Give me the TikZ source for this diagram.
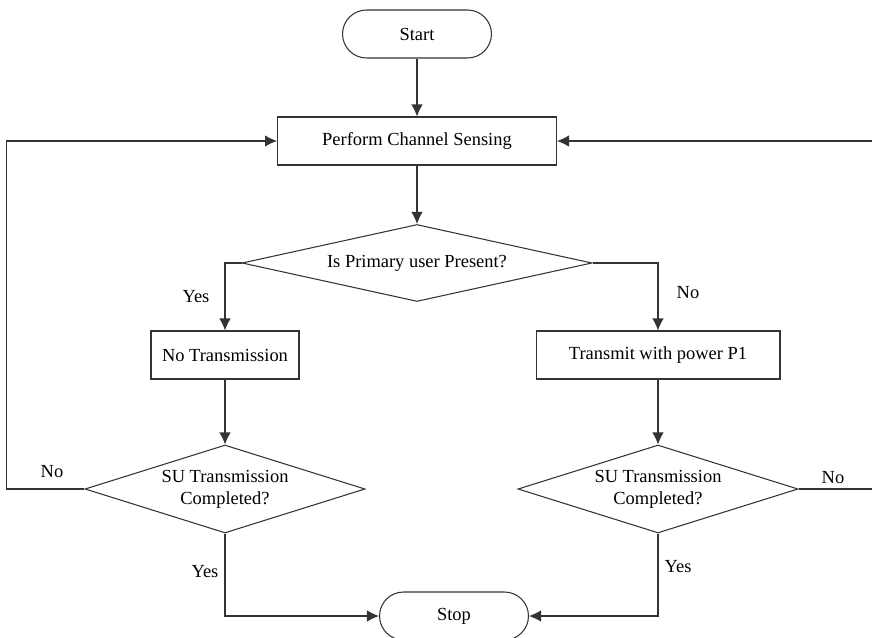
\documentclass[tikz,border=0pt]{standalone}
\usepackage{fontspec}
\setmainfont{Liberation Serif}
\usetikzlibrary{shapes.geometric,arrows.meta}
\tikzset{
  term/.style={draw=black!80, line width=0.6pt, rounded corners=0.48cm,
    minimum width=2.98cm, minimum height=0.96cm, inner sep=0pt},
  proc/.style={draw=black!80, line width=0.6pt, minimum height=0.96cm, inner sep=0pt},
  dec/.style={draw=black!80, line width=0.6pt, diamond, aspect=4, inner sep=0pt, align=center},
  arr/.style={draw=black!80, line width=0.6pt, -{Latex[length=2.4mm,width=2.3mm]}},
  ln/.style={draw=black!80, line width=0.6pt},
}
\begin{document}
\begin{tikzpicture}[x=0.02cm, y=-0.02cm, font=\fontsize{10.5}{12.6}\selectfont]
    \useasboundingbox (0,0) rectangle (872,638);

    % start and sensing
    \node[term] (start) at (417,34) {Start};
    \node[proc, minimum width=5.58cm] (sense) at (417,141) {Perform Channel Sensing};
    \node[dec, minimum width=7cm, minimum height=1.54cm] (pu) at (417,263) {Is Primary user Present?};

    % branches
    \node[proc, minimum width=2.96cm] (notx) at (225,355) {No Transmission};
    \node[proc, minimum width=4.88cm] (tx) at (658,355) {Transmit with power P1};
    \node[dec, minimum width=5.6cm, minimum height=1.76cm] (doneL) at (225,489) {SU Transmission\\Completed?};
    \node[dec, minimum width=5.58cm, minimum height=1.76cm] (doneR) at (658,489) {SU Transmission\\Completed?};

    % stop
    \node[term] (stop) at (454,616) {Stop};

    % main flow
    \draw[arr] (start) -- (sense);
    \draw[arr] (sense) -- (pu);
    \draw[arr] (pu.west) -| (notx.north);
    \draw[arr] (pu.east) -| (tx.north);
    \draw[arr] (notx) -- (doneL);
    \draw[arr] (tx) -- (doneR);

    % loops back to sensing
    \draw[arr] (doneL.west) -- ++(-78,0) |- (sense.west);
    \draw[arr] (doneR.east) -- ++(74,0) |- (sense.east);

    % to stop
    \draw[arr] (doneL.south) |- (stop.west);
    \draw[arr] (doneR.south) |- (stop.east);

    % labels
    \node (yesA) at (196,297) {Yes};
    \node (noA) at (688,293) {No};
    \node (noL) at (52,472) {No};
    \node (noR) at (833,478) {No};
    \node (yesL) at (205,572) {Yes};
    \node (yesR) at (678,567) {Yes};
\end{tikzpicture}
\end{document}
